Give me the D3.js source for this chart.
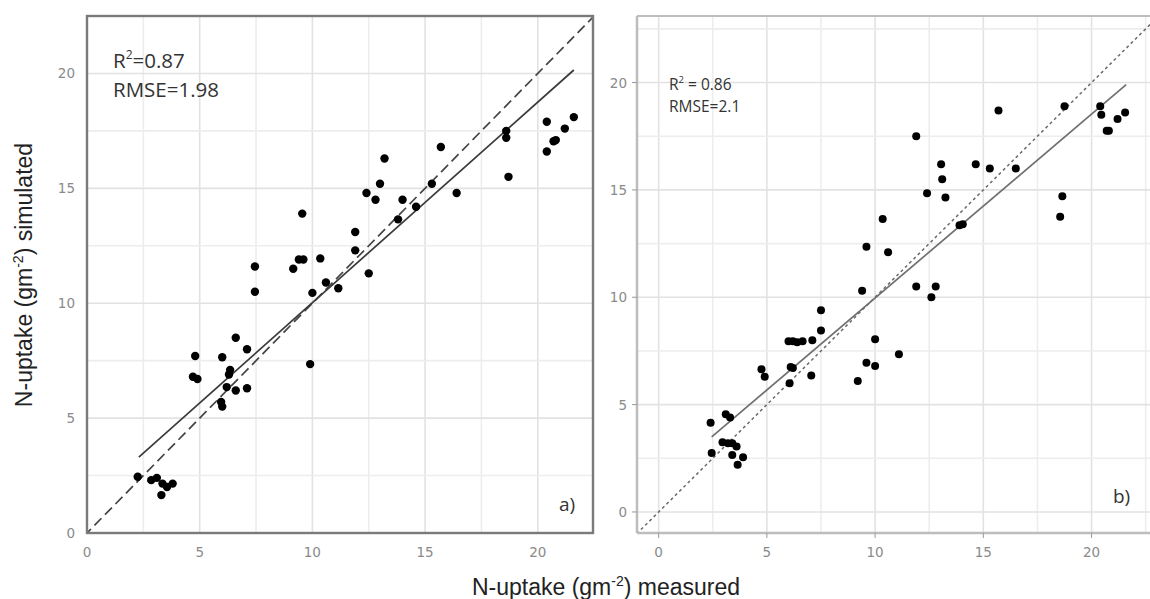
<!DOCTYPE html>
<html>

<head>
  <meta charset="UTF-8">
  <title>N-uptake simulated vs measured</title>
  <style>
    body {
      margin: 0;
      background-color: white;
      font-family: 'Open Sans', sans-serif;
    }

    svg {
      display: block;
    }

    .tick-label {
      fill: #8a8a8a;
      font-size: 13.5px;
      font-family: 'DejaVu Sans', sans-serif;
    }
  </style>
</head>

<body>
  <svg width="1150" height="599"></svg>

  <script src="https://d3js.org/d3.v7.min.js"></script>
  <script>
    // panel a) values
    let measuredA = [13.2, 12.4, 12.8, 13.0, 9.55, 11.9, 11.9, 7.45, 7.45, 9.15, 9.4, 9.6, 10.35, 10.0, 10.6, 11.15, 12.5, 13.8,
      15.7, 15.3, 16.4, 14.0, 14.6, 18.6, 18.6, 18.7, 20.4, 20.4, 20.7, 20.8, 21.2, 21.6,
      6.6, 7.1, 4.8, 6.0, 4.7, 4.9, 6.35, 6.3, 6.2, 6.6, 7.1, 5.95, 6.0, 9.9,
      2.25, 2.85, 3.1, 3.35, 3.3, 3.55, 3.8];
    let simulatedA = [16.3, 14.8, 14.5, 15.2, 13.9, 13.1, 12.3, 11.6, 10.5, 11.5, 11.9, 11.9, 11.95, 10.45, 10.9, 10.65, 11.3, 13.65,
      16.8, 15.2, 14.8, 14.5, 14.2, 17.5, 17.2, 15.5, 17.9, 16.6, 17.05, 17.1, 17.6, 18.1,
      8.5, 8.0, 7.7, 7.65, 6.8, 6.7, 7.1, 6.9, 6.35, 6.2, 6.3, 5.7, 5.5, 7.35,
      2.45, 2.3, 2.4, 2.15, 1.65, 2.0, 2.15];

    // panel b)
    let measuredB = [10.35, 9.6, 10.6, 9.4, 11.9, 15.7, 18.75, 20.4, 20.45, 21.2, 21.55, 20.7, 20.8,
      13.05, 14.65, 15.3, 16.5, 13.1, 12.4, 13.25, 18.65, 18.55, 13.9, 14.05, 11.9, 12.8, 12.6,
      7.5, 7.5, 6.0, 6.2, 6.4, 6.65, 7.1, 6.1, 6.2, 6.05, 7.05, 4.75, 4.9,
      3.1, 3.3, 2.4, 2.45, 2.95, 3.2, 3.4, 3.6, 3.4, 3.9, 3.65, 9.2, 9.6, 10.0, 10.0, 11.1];
    let simulatedB = [13.65, 12.35, 12.1, 10.3, 17.5, 18.7, 18.9, 18.9, 18.5, 18.3, 18.6, 17.75, 17.75,
      16.2, 16.2, 16.0, 16.0, 15.5, 14.85, 14.65, 14.7, 13.75, 13.35, 13.4, 10.5, 10.5, 10.0,
      9.4, 8.45, 7.95, 7.95, 7.9, 7.95, 8.0, 6.75, 6.7, 6.0, 6.35, 6.65, 6.3,
      4.55, 4.4, 4.15, 2.75, 3.25, 3.2, 3.2, 3.05, 2.65, 2.55, 2.2, 6.1, 6.95, 6.8, 8.05, 7.35];

    let ticks = [0, 5, 10, 15, 20];
    let gridSteps = [-2.5, 0, 2.5, 5, 7.5, 10, 12.5, 15, 17.5, 20, 22.5];

    // regression line end points (measured, simulated)
    let fitA = [[2.3, 3.3], [21.6, 20.15]];
    let fitB = [[2.45, 3.5], [21.6, 19.9]];
    let statsA = ["R", "=0.87", "RMSE=1.98"];
    let statsB = ["R", " = 0.86", "RMSE=2.1"];

    let svg = d3.select("svg");

    function drawPanel(id, opts) {
      let x = d3.scaleLinear().domain(opts.xDomain).range(opts.xRange);
      let y = d3.scaleLinear().domain(opts.yDomain).range(opts.yRange);
      let g = svg.append("g").attr("id", id);

      g.append("clipPath").attr("id", id + "-clip")
        .append("rect")
        .attr("x", opts.xRange[0]).attr("y", opts.yRange[1])
        .attr("width", opts.xRange[1] - opts.xRange[0])
        .attr("height", opts.yRange[0] - opts.yRange[1]);

      let inner = g.append("g").attr("clip-path", "url(#" + id + "-clip)");

      // grid lines
      inner.selectAll(".vgrid").data(gridSteps).enter().append("line")
        .attr("x1", d => x(d)).attr("x2", d => x(d))
        .attr("y1", opts.yRange[0]).attr("y2", opts.yRange[1])
        .attr("stroke", d => d % 5 == 0 ? "#e2e2e2" : "#ededed")
        .attr("stroke-width", 1.6);
      inner.selectAll(".hgrid").data(gridSteps).enter().append("line")
        .attr("y1", d => y(d)).attr("y2", d => y(d))
        .attr("x1", opts.xRange[0]).attr("x2", opts.xRange[1])
        .attr("stroke", d => d % 5 == 0 ? "#e2e2e2" : "#ededed")
        .attr("stroke-width", 1.6);

      // 1:1 line
      inner.append("line")
        .attr("x1", x(-2)).attr("y1", y(-2))
        .attr("x2", x(25)).attr("y2", y(25))
        .attr("stroke", opts.diagColor)
        .attr("stroke-width", opts.diagWidth)
        .attr("stroke-dasharray", opts.dash);

      // fitted line
      inner.append("line")
        .attr("x1", x(opts.fit[0][0])).attr("y1", y(opts.fit[0][1]))
        .attr("x2", x(opts.fit[1][0])).attr("y2", y(opts.fit[1][1]))
        .attr("stroke", opts.fitColor)
        .attr("stroke-width", 1.7);

      // points
      inner.selectAll("circle").data(opts.xs).enter().append("circle")
        .attr("cx", d => x(d))
        .attr("cy", (d, i) => y(opts.ys[i]))
        .attr("r", opts.r)
        .attr("fill", "black");

      // tick labels
      g.selectAll(".xt").data(ticks).enter().append("text")
        .attr("class", "tick-label")
        .attr("x", d => x(d)).attr("y", opts.yRange[0] + 24)
        .attr("text-anchor", "middle")
        .text(d => d);
      g.selectAll(".yt").data(ticks).enter().append("text")
        .attr("class", "tick-label")
        .attr("x", opts.xRange[0] - opts.labelGap).attr("y", d => y(d) + 5)
        .attr("text-anchor", "end")
        .text(d => d);

      return { x: x, y: y, g: g };
    }

    // ---- panel a)
    let a = drawPanel("panelA", {
      xDomain: [0, 22.45], xRange: [87, 593],
      yDomain: [0, 22.5], yRange: [533, 16],
      xs: measuredA, ys: simulatedA, fit: fitA,
      dash: "10,5", diagColor: "#444", diagWidth: 1.7, fitColor: "#3a3a3a",
      r: 4.2, labelGap: 12
    });
    a.g.append("rect")
      .attr("x", 87).attr("y", 16).attr("width", 506).attr("height", 517)
      .attr("fill", "none").attr("stroke", "#7a7a7a").attr("stroke-width", 2.4);
    let tA = a.g.append("text").attr("x", 113).attr("y", 68)
      .attr("font-size", 20.5).attr("fill", "#333");
    tA.append("tspan").text(statsA[0]);
    tA.append("tspan").attr("font-size", 12).attr("dy", -9).text("2");
    tA.append("tspan").attr("dy", 9).text(statsA[1]);
    a.g.append("text").attr("x", 113).attr("y", 97)
      .attr("font-size", 20.5).attr("fill", "#333").text(statsA[2]);
    a.g.append("text").attr("x", 559).attr("y", 511)
      .attr("font-size", 19).attr("fill", "#333").text("a)");

    // ---- panel b)
    let b = drawPanel("panelB", {
      xDomain: [-1.0, 22.7], xRange: [637, 1150],
      yDomain: [-0.98, 23.1], yRange: [533, 16],
      xs: measuredB, ys: simulatedB, fit: fitB,
      dash: "3,3", diagColor: "#6a6a6a", diagWidth: 1.5, fitColor: "#6f6f6f",
      r: 4, labelGap: 10
    });
    // axis lines + small ticks (ggplot style)
    b.g.append("line").attr("x1", 637).attr("x2", 1150).attr("y1", 16).attr("y2", 16)
      .attr("stroke", "#bdbdbd").attr("stroke-width", 2);
    b.g.append("line").attr("x1", 637).attr("x2", 637).attr("y1", 16).attr("y2", 533)
      .attr("stroke", "#bdbdbd").attr("stroke-width", 2.5);
    b.g.append("line").attr("x1", 637).attr("x2", 1150).attr("y1", 533).attr("y2", 533)
      .attr("stroke", "#bdbdbd").attr("stroke-width", 2.5);
    b.g.selectAll(".xtick").data(ticks).enter().append("line")
      .attr("x1", d => b.x(d)).attr("x2", d => b.x(d))
      .attr("y1", 533).attr("y2", 538)
      .attr("stroke", "#999");
    b.g.selectAll(".ytick").data(ticks).enter().append("line")
      .attr("y1", d => b.y(d)).attr("y2", d => b.y(d))
      .attr("x1", 632).attr("x2", 637)
      .attr("stroke", "#999");
    let tB = b.g.append("text").attr("x", 669).attr("y", 90)
      .attr("font-size", 15.5).attr("fill", "#333");
    tB.append("tspan").text(statsB[0]);
    tB.append("tspan").attr("font-size", 9.5).attr("dy", -7).text("2");
    tB.append("tspan").attr("dy", 7).text(statsB[1]);
    b.g.append("text").attr("x", 669).attr("y", 112)
      .attr("font-size", 15.5).attr("fill", "#333").text(statsB[2]);
    b.g.append("text").attr("x", 1113).attr("y", 503)
      .attr("font-size", 19).attr("fill", "#333").text("b)");

    // ---- shared axis titles
    let yTitle = svg.append("text")
      .attr("transform", "translate(32,275) rotate(-90)")
      .attr("text-anchor", "middle")
      .attr("font-family", "'Liberation Sans', Arial, sans-serif")
      .attr("font-size", 23).attr("fill", "#222");
    yTitle.append("tspan").text("N-uptake (gm");
    yTitle.append("tspan").attr("font-size", 14).attr("dy", -9).text("-2");
    yTitle.append("tspan").attr("dy", 9).text(") simulated");

    let xTitle = svg.append("text")
      .attr("x", 606).attr("y", 595)
      .attr("text-anchor", "middle")
      .attr("font-family", "'Liberation Sans', Arial, sans-serif")
      .attr("font-size", 23).attr("fill", "#222");
    xTitle.append("tspan").text("N-uptake (gm");
    xTitle.append("tspan").attr("font-size", 14).attr("dy", -9).text("-2");
    xTitle.append("tspan").attr("dy", 9).text(") measured");
  </script>
</body>

</html>
